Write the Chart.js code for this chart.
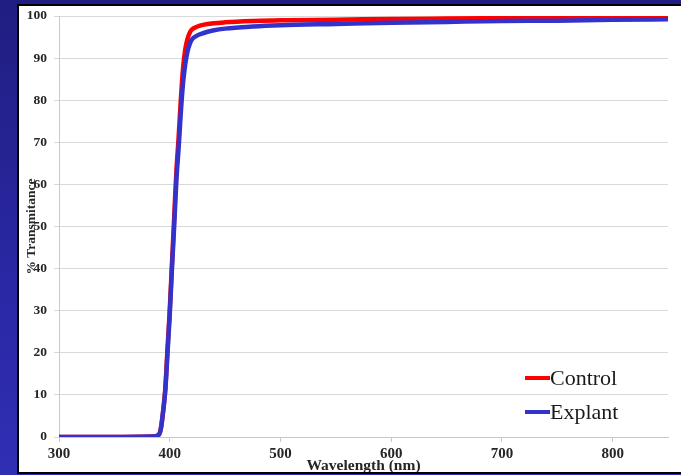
<!DOCTYPE html>
<html>
<head>
<meta charset="utf-8">
<script src="https://cdn.jsdelivr.net/npm/chart.js@4.4.1/dist/chart.umd.min.js"></script>
<style>
  html, body { margin: 0; padding: 0; }
  body {
    width: 681px; height: 475px; overflow: hidden; position: relative;
    background: linear-gradient(to bottom, #201e80 0%, #2a28a4 60%, #302eb4 100%);
  }
  #panel {
    position: absolute; left: 17px; top: 4px;
    width: 662px; height: 466px;
    background: #fff;
    border-left: 2px solid #000; border-top: 2px solid #000; border-bottom: 2px solid #000;
  }
  #chart { display: block; }
  .leg {
    position: absolute; left: 525px; height: 22px;
    display: flex; align-items: center;
    font-family: "Liberation Serif", "DejaVu Serif", serif;
    font-size: 22px; line-height: 22px; color: #1a1a1a;
  }
  .leg span.mark { display: inline-block; width: 25px; height: 4px; }
</style>
</head>
<body>
<div id="panel"><canvas id="chart" width="662" height="466"></canvas></div>
<div class="leg" style="top:367px"><span class="mark" style="background:#ff0000"></span>Control</div>
<div class="leg" style="top:401px"><span class="mark" style="background:#3333cc"></span>Explant</div>

<script>
// valores (nm y % transmitancia)
const wavelengths = [300, 350, 385, 390, 392, 394, 396, 398, 400, 402, 404, 406, 408, 410, 412, 414, 416, 418, 420, 425, 430, 440, 450, 475, 500, 550, 600, 650, 700, 750, 800, 850];
const controlValues = [0, 0, 0.1, 0.5, 2, 6, 11.5, 21, 30, 41, 52, 63, 71, 80, 87.5, 92, 94.5, 96, 96.8, 97.5, 97.9, 98.3, 98.5, 98.8, 99.0, 99.1, 99.3, 99.4, 99.5, 99.6, 99.7, 99.7];
const explantValues = [0, 0, 0.1, 0.5, 2, 6, 11, 20, 29, 40, 50, 61, 68.5, 77, 84, 88.5, 91.5, 93.3, 94.4, 95.4, 95.9, 96.6, 97.0, 97.5, 97.8, 98.1, 98.4, 98.6, 98.8, 98.9, 99.1, 99.2];
const yTicks = [0, 10, 20, 30, 40, 50, 60, 70, 80, 90, 100];
const xTicks = [300, 400, 500, 600, 700, 800];

const toPoints = (xs, ys) => xs.map((x, i) => ({x: x, y: ys[i]}));

const serif = '"Liberation Serif", "DejaVu Serif", serif';

const renderChart = () => {
    const ctx = document.getElementById('chart').getContext('2d');
    new Chart(ctx, {
        type: 'line',
        data: {
            datasets: [{
                label: 'Control',
                data: toPoints(wavelengths, controlValues),
                borderColor: '#ff0000',
                borderWidth: 4.5,
                pointRadius: 0,
                cubicInterpolationMode: 'monotone',
                order: 2
            }, {
                label: 'Explant',
                data: toPoints(wavelengths, explantValues),
                borderColor: '#3333cc',
                borderWidth: 4.5,
                pointRadius: 0,
                cubicInterpolationMode: 'monotone',
                order: 1
            }]
        },
        options: {
            responsive: false,
            animation: false,
            devicePixelRatio: 1,
            layout: {padding: {top: 10, right: 13, left: 0, bottom: 0}},
            plugins: {legend: {display: false}, tooltip: {enabled: false}},
            scales: {
                x: {
                    type: 'linear',
                    min: 300,
                    max: 850,
                    afterFit: (scale) => { scale.height = 35; },
                    afterBuildTicks: (scale) => { scale.ticks = xTicks.map(v => ({value: v})); },
                    grid: {drawOnChartArea: false, drawTicks: true, tickLength: 5, color: '#c8c8c8'},
                    border: {display: true, color: '#c8c8c8'},
                    ticks: {
                        padding: 3,
                        color: '#262626',
                        font: {family: serif, size: 15, weight: 'bold'}
                    },
                    title: {
                        display: true,
                        text: 'Wavelength (nm)',
                        color: '#262626',
                        padding: {top: 0, bottom: 0},
                        font: {family: serif, size: 15.5, weight: 'bold', lineHeight: 0.8}
                    }
                },
                y: {
                    min: 0,
                    max: 100,
                    afterFit: (scale) => {
                        scale.width = 40;
                        scale.paddingTop = 0;
                        scale.paddingBottom = 0;
                    },
                    afterBuildTicks: (scale) => { scale.ticks = yTicks.map(v => ({value: v})); },
                    grid: {color: '#d9d9d9', tickLength: 5},
                    border: {display: true, color: '#c8c8c8'},
                    ticks: {
                        padding: 7,
                        color: '#262626',
                        font: {family: serif, size: 13.5, weight: 'bold'}
                    },
                    title: {
                        display: true,
                        text: '% Transmitance',
                        color: '#262626',
                        padding: {top: 4, bottom: 0},
                        font: {family: serif, size: 13.5, weight: 'bold', lineHeight: 1.2}
                    }
                }
            }
        }
    });
};

document.addEventListener('DOMContentLoaded', renderChart);
</script>
</body>
</html>
